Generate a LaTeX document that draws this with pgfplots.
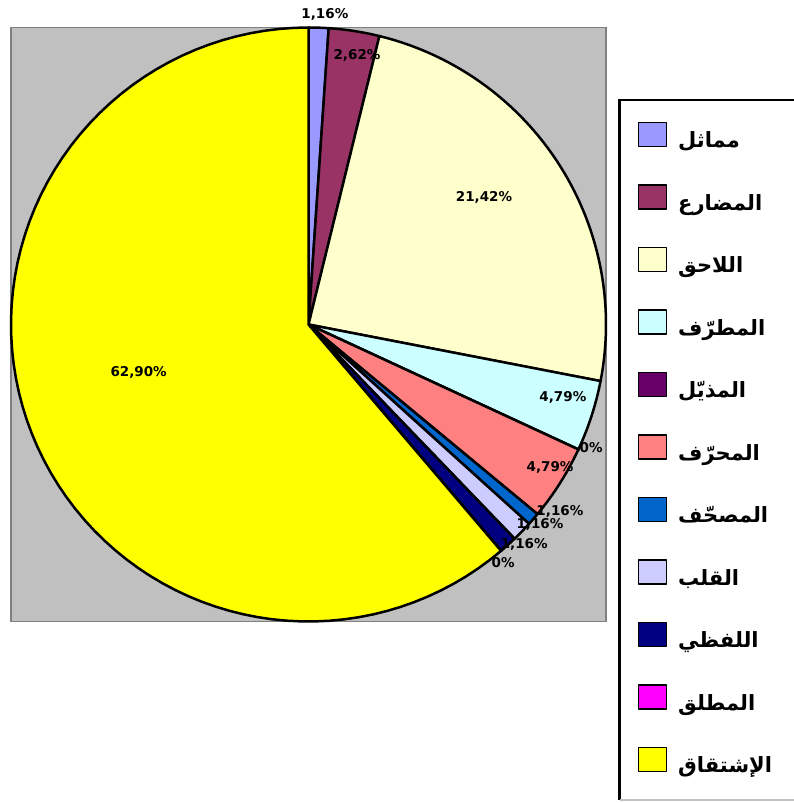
\documentclass[border=0pt]{standalone}
\usepackage{pgfplots}
\pgfplotsset{compat=1.18}
\usepackage{pgfplotstable}
\usepackage{fontspec}
\setmainfont{DejaVu Sans}
\newfontfamily\arabicfont[Script=Arabic]{DejaVu Sans}
\TeXXeTstate=1
\definecolor{c1}{HTML}{9999FF}
\definecolor{c2}{HTML}{993366}
\definecolor{c3}{HTML}{FFFFCC}
\definecolor{c4}{HTML}{CCFFFF}
\definecolor{c5}{HTML}{660066}
\definecolor{c6}{HTML}{FF8080}
\definecolor{c7}{HTML}{0066CC}
\definecolor{c8}{HTML}{CCCCFF}
\definecolor{c9}{HTML}{000080}
\definecolor{c10}{HTML}{FF00FF}
\definecolor{c11}{HTML}{FFFF00}
\definecolor{bggray}{HTML}{C0C0C0}
\definecolor{framegray}{HTML}{808080}

% share of each slice (percent of the circle)
\pgfplotstableread{
value
1.08
2.75
24.22
3.86
0
4.11
0.69
1.11
0.97
0
61.21
}\piedata

\newcommand{\pieslice}[3]{%
  \pgfplotstablegetelem{#1}{value}\of\piedata
  \pgfmathsetmacro\startang{90-3.6*\cum}%
  \pgfmathsetmacro\endang{90-3.6*(\cum+\pgfplotsretval)-0.01}%
  \pgfmathsetmacro\newcum{\cum+\pgfplotsretval}%
  \global\let\cum\newcum
  \edef\doslice{\noexpand\addplot[fill=#2, draw=black, line width=2.5pt, line join=round, domain=\endang:\startang, samples=80] ({cos(x)},{sin(x)}) -- (axis cs:0,0) -- cycle;}%
  \doslice
  \addlegendentry{\hspace*{11pt}\raisebox{-8pt}[12pt][12pt]{\fontsize{21}{25}\selectfont\arabicfont\bfseries\beginR #3\endR}}%
}
\tikzset{lbl/.style={inner sep=0pt, font=\bfseries\fontsize{13.5}{16}\selectfont}}

\begin{document}
\begin{tikzpicture}[x=1pt,y=1pt]
\path[use as bounding box] (0,0) rectangle (794,803);
\clip (0,0) rectangle (794,803);
\begin{axis}[
  at={(11pt,181.5pt)}, anchor=south west,
  scale only axis, width=595pt, height=594pt,
  xmin=-1, xmax=1, ymin=-1, ymax=1,
  xtick=\empty, ytick=\empty,
  axis background/.style={fill=bggray},
  axis line style={draw=framegray, line width=1.5pt},
  clip=false,
  legend cell align=left,
  legend style={at={(rel axis cs:1.0218,0.8779)}, anchor=north west,
    draw=none, fill=none, inner xsep=18.5pt, inner ysep=21.5pt,
    row sep=37pt, column sep=0pt, nodes={inner sep=0pt}},
  legend image code/.code={\draw[#1, draw=black, line width=1.5pt] (0pt,-12pt) rectangle (28pt,12pt);},
]
\gdef\cum{0}
\pieslice{0}{c1}{مماثل}
\pieslice{1}{c2}{المضارع}
\pieslice{2}{c3}{اللاحق}
\pieslice{3}{c4}{المطرّف}
\pieslice{4}{c5}{المذيّل}
\pieslice{5}{c6}{المحرّف}
\pieslice{6}{c7}{المصحّف}
\pieslice{7}{c8}{القلب}
\pieslice{8}{c9}{اللفظي}
\pieslice{9}{c10}{المطلق}
\pieslice{10}{c11}{الإشتقاق}
\node[lbl] at (axis cs:0.055,1.045) {1,16\%};
\node[lbl] at (axis cs:0.163,0.907) {2,62\%};
\node[lbl] at (axis cs:0.590,0.429) {21,42\%};
\node[lbl] at (axis cs:0.855,-0.247) {4,79\%};
\node[lbl] at (axis cs:0.950,-0.416) {0\%};
\node[lbl] at (axis cs:0.812,-0.480) {4,79\%};
\node[lbl] at (axis cs:0.845,-0.631) {1,16\%};
\node[lbl] at (axis cs:0.778,-0.672) {1,16\%};
\node[lbl] at (axis cs:0.725,-0.739) {1,16\%};
\node[lbl] at (axis cs:0.654,-0.800) {0\%};
\node[lbl] at (axis cs:-0.571,-0.163) {62,90\%};
\end{axis}
\draw[line width=2.5pt] (619.5,3) -- (619.5,703) -- (810,703);
\draw[line width=1.5pt, draw=bggray] (619.5,3) -- (810,3);
\end{tikzpicture}
\end{document}
